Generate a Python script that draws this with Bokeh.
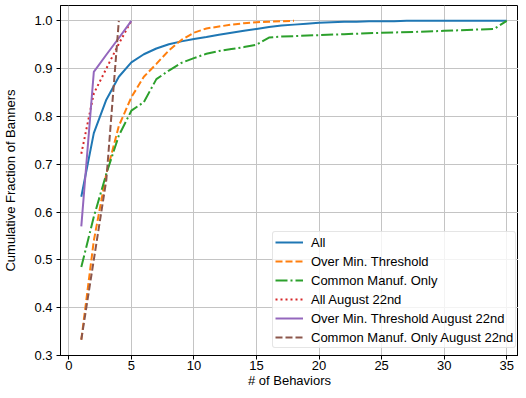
from bokeh.plotting import figure
from bokeh.models import FixedTicker, Range1d, Legend, LegendItem, PrintfTickFormatter
from bokeh.embed import file_html
from bokeh.resources import INLINE

# ---- data ----
x_all = list(range(1, 36))
y_all = [0.632, 0.765, 0.835, 0.883, 0.913, 0.930, 0.942, 0.951, 0.957, 0.962,
         0.966, 0.971, 0.975, 0.979, 0.983, 0.987, 0.990, 0.992, 0.994, 0.996,
         0.997, 0.998, 0.998, 0.999, 0.999, 0.999, 1.0, 1.0, 1.0, 1.0,
         1.0, 1.0, 1.0, 1.0, 1.0]

x_over = list(range(1, 19))
y_over = [0.333, 0.54, 0.68, 0.78, 0.84, 0.883, 0.91, 0.938, 0.96, 0.975,
          0.984, 0.988, 0.992, 0.995, 0.997, 0.998, 0.999, 1.0]

x_common = [1, 2, 3, 4, 5, 6, 7, 8, 9, 10, 11, 12, 13, 14, 15, 16, 17, 18,
            20, 22, 25, 28, 30, 34, 35]
y_common = [0.485, 0.59, 0.68, 0.76, 0.812, 0.83, 0.878, 0.896, 0.912, 0.922,
            0.931, 0.937, 0.941, 0.945, 0.950, 0.965, 0.967, 0.968,
            0.970, 0.972, 0.975, 0.977, 0.979, 0.983, 1.0]

x_all_aug = [1, 2, 3, 4, 5]
y_all_aug = [0.722, 0.848, 0.90, 0.952, 1.0]

x_over_aug = [1, 2, 3, 4, 5]
y_over_aug = [0.57, 0.893, 0.929, 0.964, 1.0]

x_common_aug = [1, 2, 3, 4]
y_common_aug = [0.333, 0.5, 0.667, 1.0]

x_ticks = [0, 5, 10, 15, 20, 25, 30, 35]
y_ticks = [0.3, 0.4, 0.5, 0.6, 0.7, 0.8, 0.9, 1.0]

series = [
    ("All", x_all, y_all, "#1f77b4", "solid"),
    ("Over Min. Threshold", x_over, y_over, "#ff7f0e", "7 3"),
    ("Common Manuf. Only", x_common, y_common, "#2ca02c", "12 3 2 3"),
    ("All August 22nd", x_all_aug, y_all_aug, "#d62728", "2 3"),
    ("Over Min. Threshold August 22nd", x_over_aug, y_over_aug, "#9467bd", "solid"),
    ("Common Manuf. Only August 22nd", x_common_aug, y_common_aug, "#8c564b", "7 3"),
]

FONT = "Liberation Sans"
FS = "13px"

p = figure(width=518, height=390, output_backend="svg", toolbar_location=None,
           x_range=Range1d(-0.662, 35.94), y_range=Range1d(0.3, 1.032),
           min_border_left=59, min_border_right=0, min_border_top=5,
           min_border_bottom=35)

p.background_fill_color = "white"
p.border_fill_color = "white"
p.outline_line_color = "black"
p.outline_line_width = 1

items = []
for label, xs, ys, color, dash in series:
    r = p.line(xs, ys, line_color=color, line_width=2, line_dash=dash)
    items.append(LegendItem(label=label, renderers=[r]))

# grid
for g in (p.xgrid[0], p.ygrid[0]):
    g.grid_line_color = "#c4c4c4"
    g.grid_line_width = 1
p.xgrid[0].ticker = FixedTicker(ticks=x_ticks)
p.ygrid[0].ticker = FixedTicker(ticks=y_ticks)

# axes
p.xaxis[0].ticker = FixedTicker(ticks=x_ticks)
p.yaxis[0].ticker = FixedTicker(ticks=y_ticks)
p.yaxis[0].formatter = PrintfTickFormatter(format="%.1f")
for ax in (p.xaxis[0], p.yaxis[0]):
    ax.major_tick_out = 4
    ax.major_tick_in = 0
    ax.minor_tick_out = 0
    ax.minor_tick_in = 0
    ax.major_tick_line_color = "black"
    ax.axis_line_color = "black"
    ax.major_label_text_font = FONT
    ax.major_label_text_font_size = FS
    ax.major_label_text_color = "black"
    ax.axis_label_text_font = FONT
    ax.axis_label_text_font_size = FS
    ax.axis_label_text_font_style = "normal"
    ax.axis_label_text_color = "black"
p.xaxis[0].major_label_standoff = 1
p.yaxis[0].major_label_standoff = 4
p.xaxis[0].axis_label = "# of Behaviors"
p.yaxis[0].axis_label = "Cumulative Fraction of Banners"
p.xaxis[0].axis_label_standoff = 0
p.yaxis[0].axis_label_standoff = 13

legend = Legend(items=items, location=(212, 7))
legend.margin = 0
legend.padding = 2
legend.spacing = 3
legend.glyph_width = 28
legend.glyph_height = 16
legend.label_height = 16
legend.label_standoff = 8
legend.label_text_font = FONT
legend.label_text_font_size = FS
legend.label_text_color = "black"
legend.border_line_color = "#cccccc"
legend.border_line_width = 1
legend.background_fill_alpha = 0.8
legend.border_radius = 3
p.add_layout(legend, "center")

open("out.html", "w").write(file_html(p, INLINE))
